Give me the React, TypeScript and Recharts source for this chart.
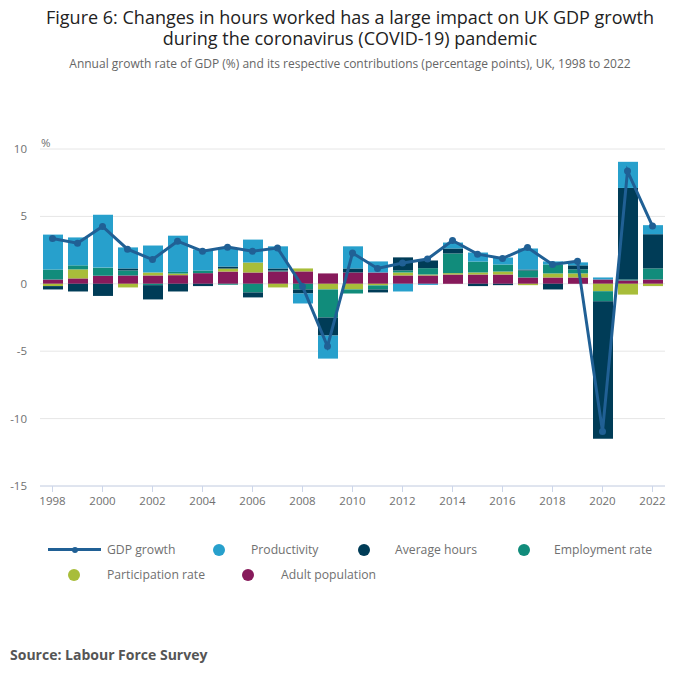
import { Bar, CartesianGrid, ComposedChart, Line, XAxis, YAxis } from 'recharts';

const years = [
  '1998', '1999', '2000', '2001', '2002', '2003', '2004', '2005', '2006', '2007', '2008', '2009', '2010',
  '2011', '2012', '2013', '2014', '2015', '2016', '2017', '2018', '2019', '2020', '2021', '2022',
];
const gdpGrowth = [
  3.36, 3.01, 4.25, 2.57, 1.8, 3.16, 2.42, 2.72, 2.42, 2.65, -0.2, -4.64, 2.28,
  1.14, 1.54, 1.84, 3.21, 2.2, 1.88, 2.69, 1.43, 1.68, -10.95, 8.36, 4.28,
];
const productivity = [
  2.59, 2.07, 3.93, 1.56, 2.0, 2.69, 1.56, 1.33, 1.7, 1.64, -0.74, -1.71, 1.64,
  0.82, -0.57, -0.08, 0.44, 0.67, 0.52, 1.56, 0.22, 0.22, 0.15, 1.94, 0.67,
];
const averageHours = [
  -0.25, -0.57, -0.9, 0.15, -1.06, -0.57, -0.17, 0.15, -0.37, 0.15, -0.3, -1.34, 0.3,
  -0.22, 0.97, 0.57, 0.37, -0.17, -0.1, 0.07, -0.42, 0.3, -10.2, 6.79, 2.54,
];
const employmentRate = [
  0.74, 0.3, 0.6, 0.37, -0.1, 0.12, 0.2, -0.07, -0.64, 0.07, -0.42, -2.08, -0.3,
  -0.3, 0.15, 0.47, 1.46, 0.81, 0.52, 0.52, 0.67, 0.3, -0.75, 0.07, 0.82,
];
const participationRate = [
  -0.17, 0.67, 0, -0.27, 0.22, 0.12, 0, 0.22, 0.74, -0.27, 0.22, -0.42, -0.42,
  -0.12, 0.22, 0.07, 0.1, 0.15, 0.22, -0.1, 0.3, 0.3, -0.55, -0.8, -0.17,
];
const adultPopulation = [
  0.32, 0.4, 0.6, 0.62, 0.62, 0.64, 0.79, 0.91, 0.84, 0.92, 0.92, 0.77, 0.84,
  0.84, 0.62, 0.62, 0.69, 0.69, 0.69, 0.47, 0.47, 0.47, 0.32, 0.25, 0.32,
];
const yTicks = [-15, -10, -5, 0, 5, 10];

const data = years.map((year, i) => ({
  year,
  gdp: gdpGrowth[i],
  productivity: productivity[i],
  hours: averageHours[i],
  employment: employmentRate[i],
  participation: participationRate[i],
  adult: adultPopulation[i],
}));

const COLORS = {
  gdp: '#206095',
  productivity: '#27a0cc',
  hours: '#003c57',
  employment: '#118c7b',
  participation: '#a8bd3a',
  adult: '#871a5b',
};

const FONT = '"Open Sans", "Noto Sans", sans-serif';

function LegendDot({ x, y, color, label, textX }: { x: number; y: number; color: string; label: string; textX: number }) {
  return (
    <>
      <div style={{ position: 'absolute', left: x - 6, top: y - 6, width: 12, height: 12, borderRadius: 6, background: color }} />
      <div style={{ position: 'absolute', left: textX, top: y - 9, lineHeight: '18px', fontSize: 12.2, color: '#707070', whiteSpace: 'nowrap' }}>{label}</div>
    </>
  );
}

export default function App() {
  return (
    <div style={{ position: 'absolute', left: 0, top: 0, width: 700, height: 682, background: '#fff', fontFamily: FONT, overflow: 'hidden' }}>
      {/* Titles */}
      <div style={{ position: 'absolute', top: 7, left: 0, width: 700, textAlign: 'center', fontSize: 18, lineHeight: '20px', color: '#222' }}>
        Figure 6: Changes in hours worked has a large impact on UK GDP growth
      </div>
      <div style={{ position: 'absolute', top: 28, left: 0, width: 700, textAlign: 'center', fontSize: 18, lineHeight: '20px', color: '#222' }}>
        during the coronavirus (COVID-19) pandemic
      </div>
      <div style={{ position: 'absolute', top: 55, left: 0, width: 700, textAlign: 'center', fontSize: 12, lineHeight: '18px', color: '#666' }}>
        Annual growth rate of GDP (%) and its respective contributions (percentage points), UK, 1998 to 2022
      </div>

      <div style={{ position: 'absolute', left: 0, top: 0 }}>
        <ComposedChart
          width={700}
          height={682}
          data={data}
          stackOffset="sign"
          margin={{ top: 149, right: 35, bottom: 166, left: 10 }}
        >
          <CartesianGrid horizontal vertical={false} stroke="#e6e6e6" />
          <XAxis
            dataKey="year"
            interval={1}
            height={30}
            axisLine={{ stroke: '#ccd6eb' }}
            tickLine={{ stroke: '#ccd6eb' }}
            tickMargin={5}
            tick={{ fontSize: 11.5, fill: '#707070', fontFamily: FONT }}
          />
          <YAxis
            width={30}
            domain={[-15, 10]}
            ticks={yTicks}
            axisLine={false}
            tickLine={false}
            tickMargin={7}
            tick={{ fontSize: 11.5, fill: '#707070', fontFamily: FONT }}
          />
          <Bar dataKey="adult" stackId="a" fill={COLORS.adult} barSize={20} isAnimationActive={false} />
          <Bar dataKey="participation" stackId="a" fill={COLORS.participation} barSize={20} isAnimationActive={false} />
          <Bar dataKey="employment" stackId="a" fill={COLORS.employment} barSize={20} isAnimationActive={false} />
          <Bar dataKey="hours" stackId="a" fill={COLORS.hours} barSize={20} isAnimationActive={false} />
          <Bar dataKey="productivity" stackId="a" fill={COLORS.productivity} barSize={20} isAnimationActive={false} />
          <Line
            dataKey="gdp"
            stroke={COLORS.gdp}
            strokeWidth={3}
            dot={{ r: 3.5, fill: COLORS.gdp, stroke: COLORS.gdp, strokeWidth: 0 }}
            isAnimationActive={false}
          />
        </ComposedChart>
      </div>

      <div style={{ position: 'absolute', left: 41, top: 135, fontSize: 11.5, color: '#707070' }}>%</div>

      {/* Legend */}
      <div style={{ position: 'absolute', left: 48, top: 548, width: 53, height: 3, background: COLORS.gdp }} />
      <div style={{ position: 'absolute', left: 72, top: 546.5, width: 6, height: 6, borderRadius: 3, background: COLORS.gdp }} />
      <div style={{ position: 'absolute', left: 107, top: 541, lineHeight: '18px', fontSize: 12.2, color: '#707070' }}>GDP growth</div>
      <LegendDot x={219} y={550} color={COLORS.productivity} label="Productivity" textX={251} />
      <LegendDot x={364} y={550} color={COLORS.hours} label="Average hours" textX={395} />
      <LegendDot x={524} y={550} color={COLORS.employment} label="Employment rate" textX={554} />
      <LegendDot x={74} y={575} color={COLORS.participation} label="Participation rate" textX={107} />
      <LegendDot x={248} y={575} color={COLORS.adult} label="Adult population" textX={281} />

      <div style={{ position: 'absolute', left: 10, top: 645, fontSize: 14, fontWeight: 700, color: '#555', lineHeight: '20px' }}>
        Source: Labour Force Survey
      </div>
    </div>
  );
}
